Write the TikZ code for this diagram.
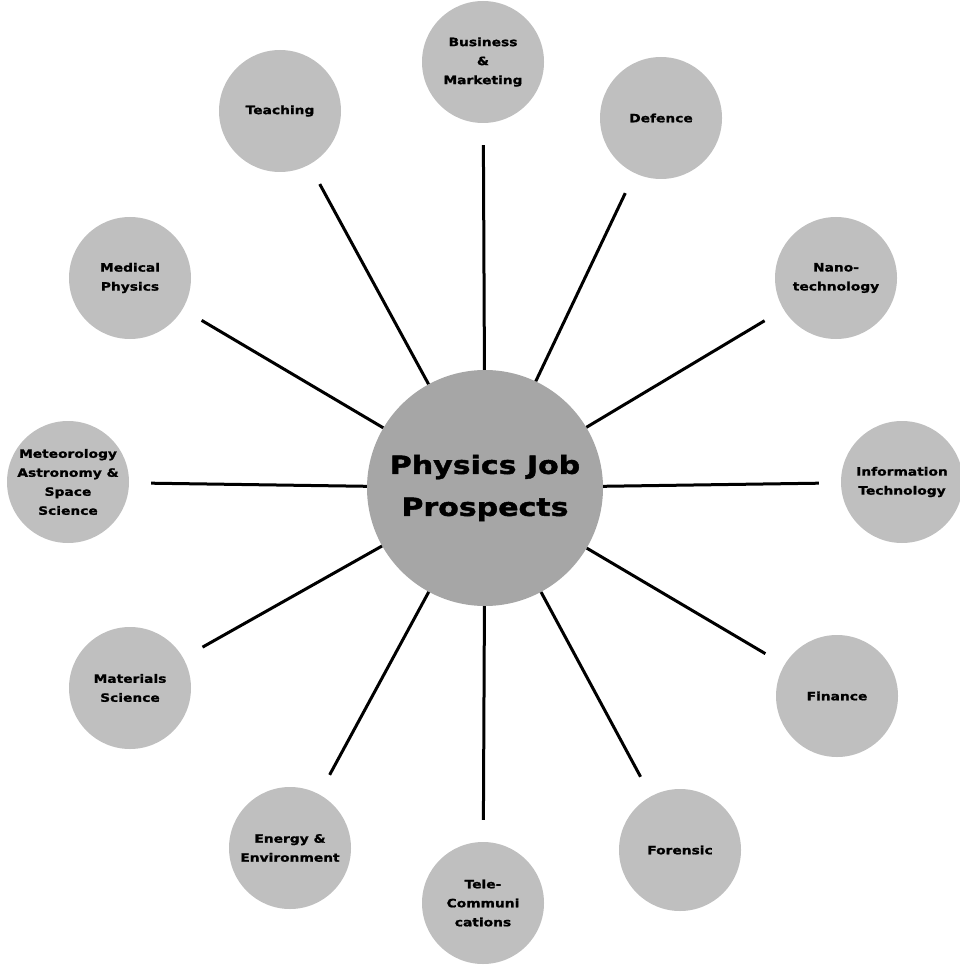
\documentclass[tikz,border=0pt]{standalone}
\usepackage{fontspec}
% heavy, slightly widened sans for all labels
\newfontfamily\widebold[FakeStretch=1.2,FakeBold=1.6]{DejaVu Sans Bold}
\newfontfamily\widesmall[FakeStretch=1.2,FakeBold=1.2]{DejaVu Sans Bold}
\tikzset{
  hub/.style={circle, fill=black!35, minimum size=236pt, inner sep=0pt,
    font=\widebold\fontsize{25}{42}\selectfont, align=center},
  field/.style={circle, fill=black!25, minimum size=122pt, inner sep=0pt,
    font=\widesmall\fontsize{11.5}{19}\selectfont, align=center},
  spoke/.style={line width=3pt, shorten >=22pt}
}
\begin{document}
\begin{tikzpicture}[x=1pt,y=-1pt]
\useasboundingbox (0,0) rectangle (959,965);
\node[hub] (c) at (485,488) {Physics Job\\Prospects};

\node[field] (bus) at (483,62) {Business\\\&\\Marketing};
\node[field] (def) at (661,118) {Defence};
\node[field] (nano) at (836,278) {Nano-\\technology};
\node[field] (it) at (902,482) {Information\\Technology};
\node[field] (fin) at (837,696) {Finance};
\node[field] (for) at (680,850) {Forensic};
\node[field] (tel) at (483,903) {Tele-\\Communi\\cations};
\node[field] (ene) at (290,848) {Energy \&\\Environment};
\node[field] (mat) at (130,688) {Materials\\Science};
\node[field] (met) at (68,482) {Meteorology\\Astronomy \&\\Space\\Science};
\node[field] (med) at (130,278) {Medical\\Physics};
\node[field] (tea) at (280,111) {Teaching};

\foreach \n in {bus,def,nano,it,fin,for,tel,ene,mat,met,med,tea}
  \draw[spoke] (c) -- (\n);
\end{tikzpicture}
\end{document}
